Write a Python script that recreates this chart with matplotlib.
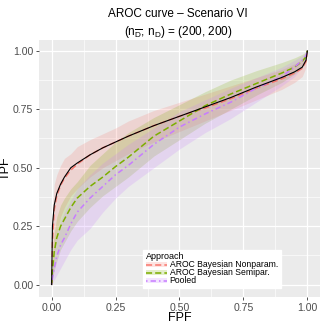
import matplotlib
matplotlib.use("Agg")
import matplotlib.pyplot as plt
from matplotlib.patches import Patch
from matplotlib.lines import Line2D

plt.rcParams['font.family'] = ['Liberation Sans', 'DejaVu Sans']
plt.rcParams['mathtext.fontset'] = 'custom'
plt.rcParams['mathtext.rm'] = 'Liberation Sans'
plt.rcParams['mathtext.it'] = 'Liberation Sans'

# data
fpf = [0, 0.003, 0.01, 0.02, 0.035, 0.05, 0.075, 0.1, 0.15, 0.2, 0.25, 0.3, 0.4, 0.5,
       0.6, 0.7, 0.8, 0.9, 0.95, 0.98, 0.995, 1]

true_roc = [0, 0.25, 0.34, 0.39, 0.43, 0.46, 0.50, 0.52, 0.555, 0.585, 0.61, 0.635, 0.68, 0.72,
            0.76, 0.80, 0.845, 0.886, 0.91, 0.93, 0.96, 1]

np_est = [0, 0.18, 0.32, 0.38, 0.425, 0.455, 0.49, 0.515, 0.555, 0.585, 0.61, 0.635, 0.68, 0.72,
          0.755, 0.795, 0.84, 0.88, 0.905, 0.925, 0.955, 1]
np_low = [0, 0.03, 0.12, 0.22, 0.29, 0.33, 0.38, 0.41, 0.46, 0.50, 0.53, 0.56, 0.61, 0.655,
          0.70, 0.745, 0.79, 0.835, 0.865, 0.89, 0.93, 1]
np_upp = [0, 0.30, 0.43, 0.47, 0.51, 0.54, 0.56, 0.59, 0.62, 0.645, 0.67, 0.70, 0.745, 0.78,
          0.815, 0.85, 0.885, 0.92, 0.945, 0.965, 0.98, 1]

sp_est = [0, 0.06, 0.14, 0.20, 0.25, 0.28, 0.33, 0.37, 0.42, 0.46, 0.505, 0.545, 0.635, 0.70,
          0.765, 0.815, 0.86, 0.905, 0.93, 0.955, 0.975, 1]
sp_low = [0, 0.02, 0.06, 0.10, 0.15, 0.18, 0.23, 0.27, 0.33, 0.38, 0.42, 0.46, 0.55, 0.62,
          0.69, 0.75, 0.81, 0.865, 0.90, 0.93, 0.96, 1]
sp_upp = [0, 0.12, 0.22, 0.29, 0.34, 0.37, 0.41, 0.44, 0.51, 0.56, 0.61, 0.65, 0.715, 0.77,
          0.825, 0.875, 0.915, 0.95, 0.97, 0.985, 0.995, 1]

pl_est = [0, 0.03, 0.07, 0.12, 0.17, 0.20, 0.26, 0.31, 0.37, 0.42, 0.47, 0.51, 0.60, 0.674,
          0.73, 0.78, 0.84, 0.89, 0.93, 0.96, 0.98, 1]
pl_low = [0, 0.005, 0.02, 0.04, 0.07, 0.10, 0.15, 0.19, 0.24, 0.31, 0.37, 0.42, 0.50, 0.58,
          0.65, 0.71, 0.78, 0.85, 0.89, 0.93, 0.96, 1]
pl_upp = [0, 0.07, 0.14, 0.21, 0.27, 0.31, 0.36, 0.41, 0.47, 0.52, 0.56, 0.60, 0.67, 0.74,
          0.79, 0.84, 0.885, 0.93, 0.96, 0.98, 0.99, 1]

labels = ["AROC Bayesian Nonparam.", "AROC Bayesian Semipar.", "Pooled"]
colors = ["#F8766D", "#7CAE00", "#C77CFF"]
dashes = [(4, 2), (4, 2), (1, 2, 3.5, 2)]
tick_vals = [0, 0.25, 0.5, 0.75, 1.0]
tick_labs = ["0.00", "0.25", "0.50", "0.75", "1.00"]

fig = plt.figure(figsize=(3.24, 3.24), dpi=100)
ax = fig.add_axes([0.12, 0.082, 0.868, 0.795])
ax.set_facecolor("#EBEBEB")

series = [(np_est, np_low, np_upp), (sp_est, sp_low, sp_upp), (pl_est, pl_low, pl_upp)]
handles = []
for (est, low, upp), c, d, lab in zip(series, colors, dashes, labels):
    ax.fill_between(fpf, low, upp, color=c, alpha=0.2, lw=0)
    ax.plot(fpf, est, color=c, lw=1.1, dashes=d)
    handles.append((Patch(facecolor=c, alpha=0.2, lw=0),
                    Line2D([], [], color=c, lw=1.1, dashes=d)))

ax.plot(fpf, true_roc, color="black", lw=0.8)

ax.set_xlim(-0.05, 1.05)
ax.set_ylim(-0.055, 1.047)
ax.set_xticks(tick_vals)
ax.set_yticks(tick_vals)
ax.set_xticklabels(tick_labs)
ax.set_yticklabels(tick_labs)
ax.set_xticks([0.125, 0.375, 0.625, 0.875], minor=True)
ax.set_yticks([0.125, 0.375, 0.625, 0.875], minor=True)
ax.grid(True, which="major", color="white", lw=0.9)
ax.grid(True, which="minor", color="white", lw=0.45)
ax.set_axisbelow(True)
ax.tick_params(which="major", length=2.5, width=0.6, color="#333333", labelsize=7.6,
               labelcolor="#4D4D4D", pad=1.5)
ax.tick_params(which="minor", length=0)
for s in ax.spines.values():
    s.set_visible(False)

ax.set_xlabel("FPF", fontsize=9, labelpad=-1)
ax.set_ylabel("TPF", fontsize=9, labelpad=1)
fig.text(0.55, 0.957, "AROC curve \u2013 Scenario VI", ha="center", va="center", fontsize=8.5)
fig.text(0.55, 0.9, r"(n$_{\overline{\mathrm{D}}}$, n$_{\mathrm{D}}$) = (200, 200)",
         ha="center", va="center", fontsize=8.5)

leg = ax.legend(handles, labels, title="Approach", loc="lower left", bbox_to_anchor=(0.355, 0.02),
                fontsize=6.2, title_fontsize=6.5, frameon=True, fancybox=False, edgecolor="white",
                facecolor="white", framealpha=1, handlelength=2.5, handleheight=0.5,
                labelspacing=-0.12, borderpad=0.3, handletextpad=0.3, alignment="left")

fig.savefig("out.png", dpi=100)
